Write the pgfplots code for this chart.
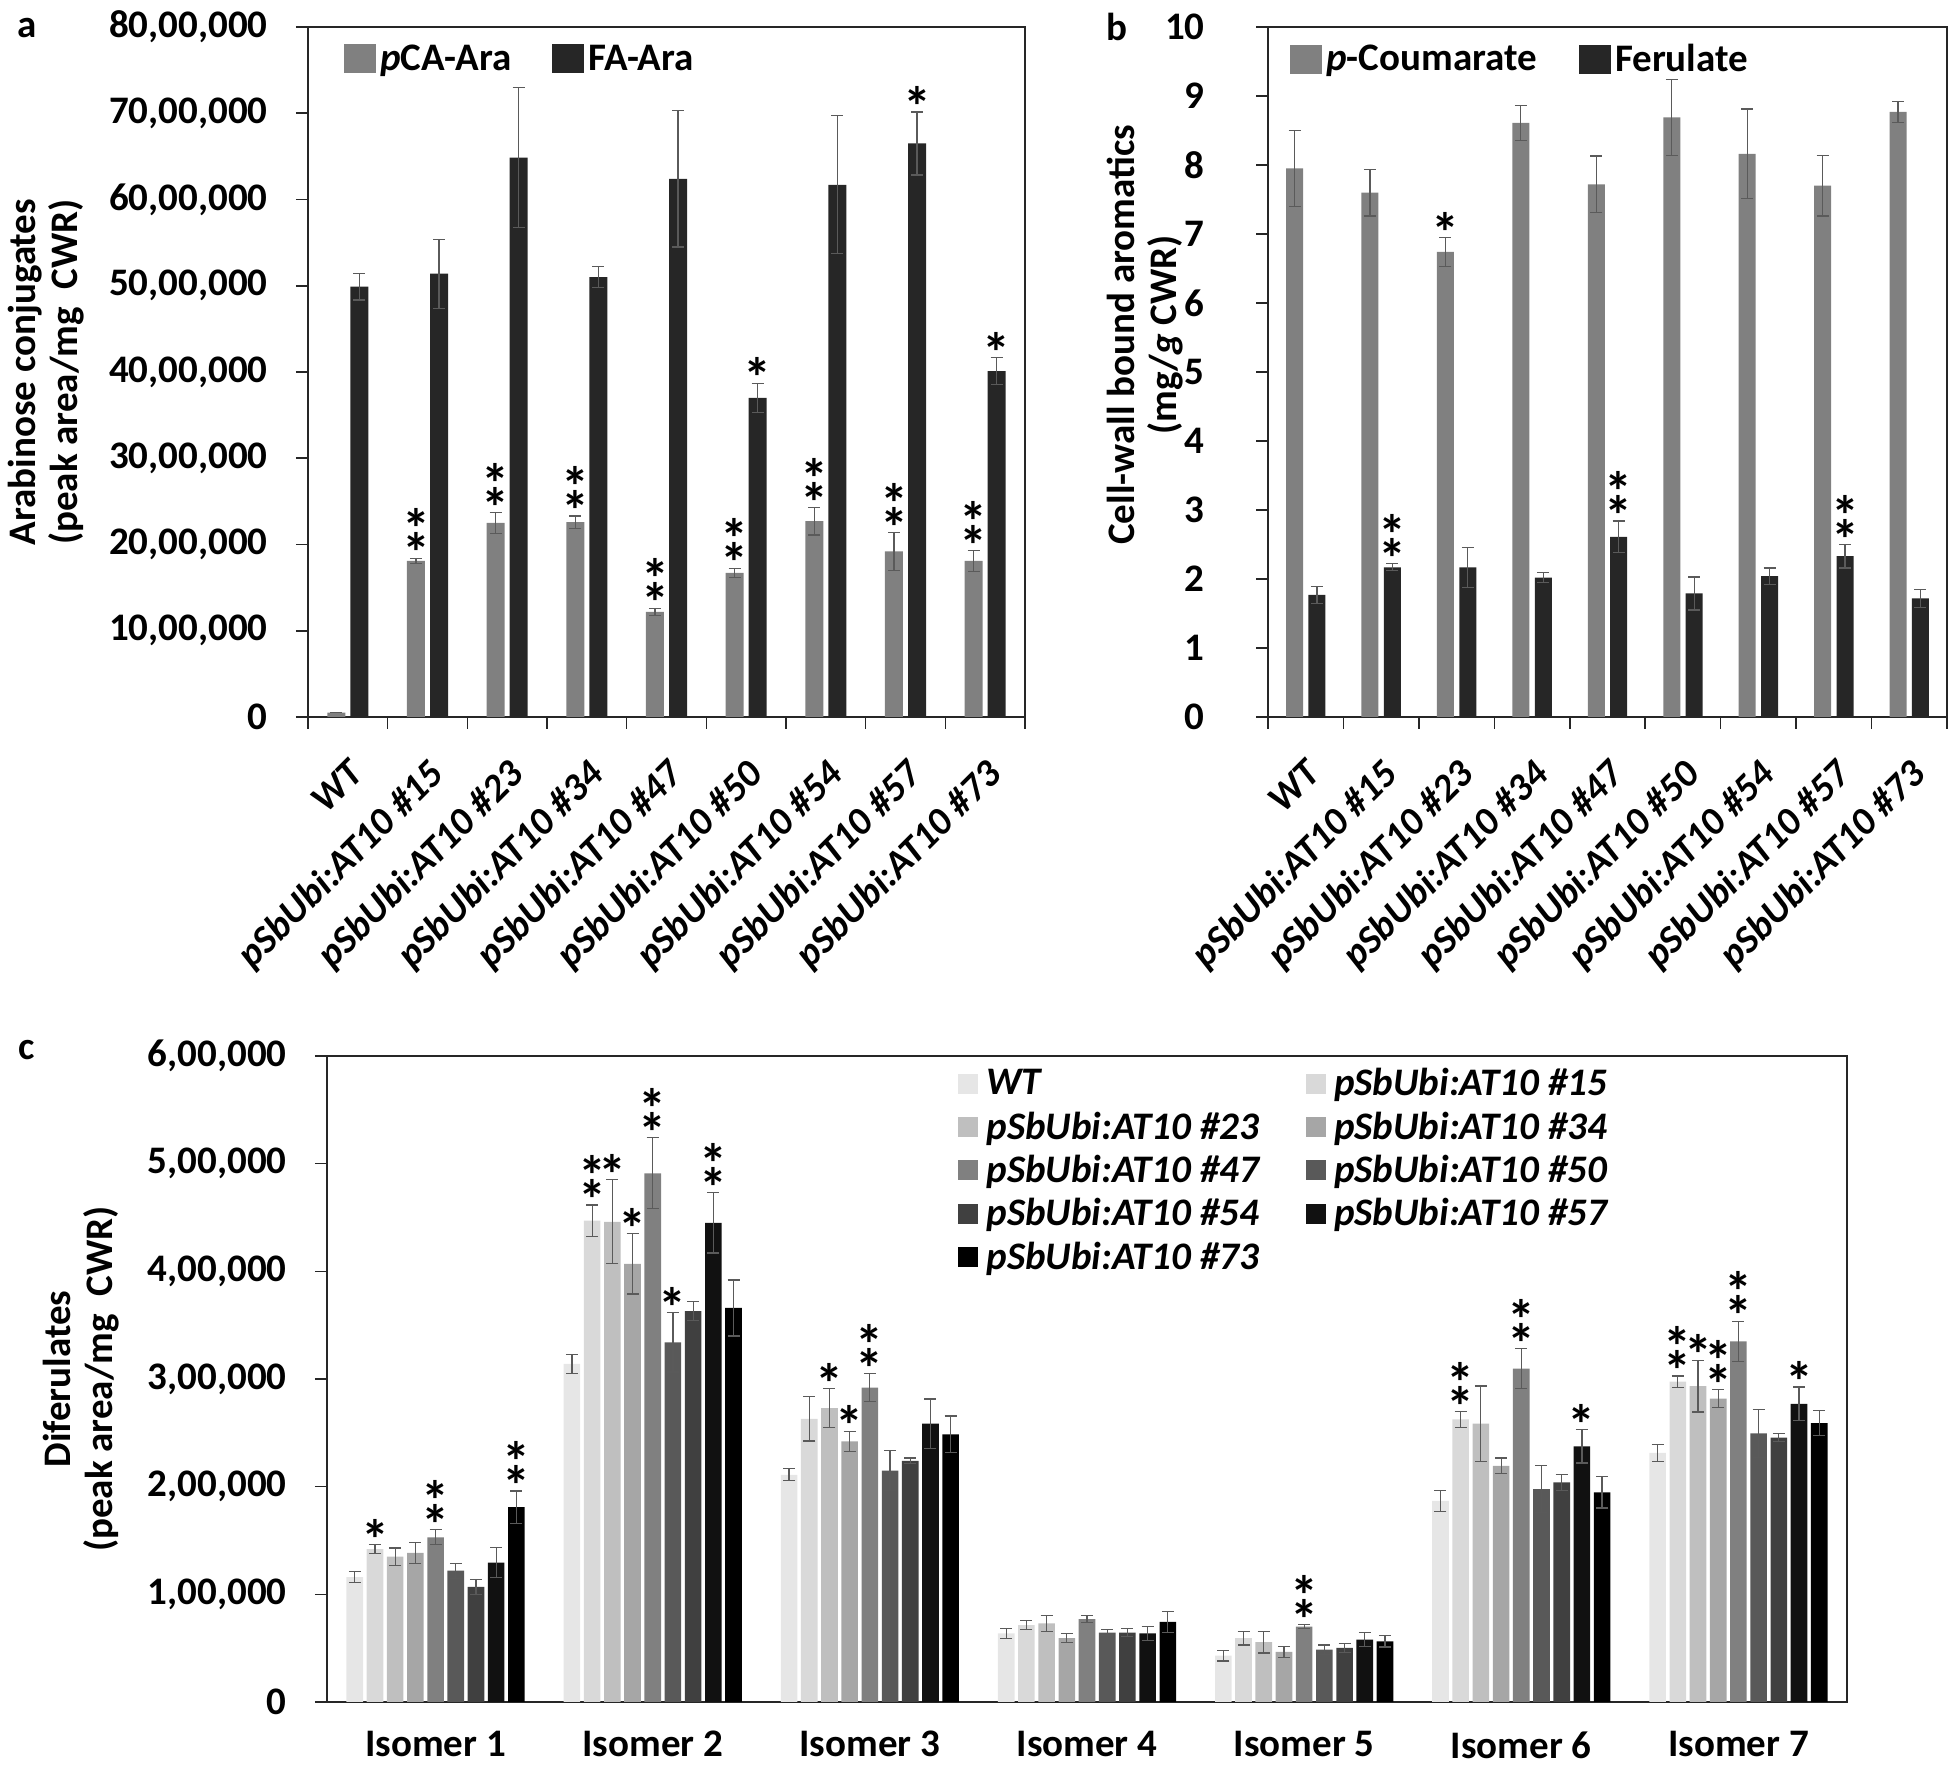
\documentclass[border=0pt]{standalone}
\usepackage{fontspec}
\setmainfont{Carlito}
\usepackage{pgfplots}
\usepackage{pgfplotstable}
\pgfplotsset{compat=1.18}

\definecolor{cPC}{HTML}{808080}
\definecolor{cFA}{HTML}{262626}
\definecolor{k0}{HTML}{E6E6E6}
\definecolor{k1}{HTML}{D9D9D9}
\definecolor{k2}{HTML}{BFBFBF}
\definecolor{k3}{HTML}{A6A6A6}
\definecolor{k4}{HTML}{808080}
\definecolor{k5}{HTML}{595959}
\definecolor{k6}{HTML}{404040}
\definecolor{k7}{HTML}{111111}
\definecolor{k8}{HTML}{000000}
\definecolor{errc}{HTML}{5A5A5A}
\definecolor{axc}{HTML}{262626}

\newcommand{\fs}{\fontsize{19.5}{21}\selectfont\bfseries}
\newcommand{\fst}{\fontsize{28}{12}\selectfont\bfseries\lineskiplimit=-50pt\lineskip=0pt}

\pgfplotstableread{
cat pca pcaerr fa faerr
0 50000 0 4990000 155000
1 1810000 30000 5140000 400000
2 2250000 120000 6485000 810000
3 2260000 70000 5100000 120000
4 1220000 40000 6240000 790000
5 1670000 55000 3700000 170000
6 2270000 160000 6170000 800000
7 1920000 220000 6650000 365000
8 1810000 120000 4010000 155000
}\tabA

\pgfplotstableread{
x y
0.8556 1840000
1.8556 2370000
2.8556 2330000
3.8556 1260000
4.8556 1725000
5.8556 2430000
6.8556 2140000
7.8556 1930000
}\starAd

\pgfplotstableread{
x y
5.1444 3870000
7.1444 7015000
8.1444 4165000
}\starAs

\pgfplotstableread{
cat pc pcerr fe feerr
0 7.95 0.55 1.77 0.12
1 7.60 0.34 2.17 0.05
2 6.74 0.21 2.17 0.29
3 8.61 0.25 2.02 0.07
4 7.72 0.41 2.61 0.23
5 8.69 0.55 1.79 0.24
6 8.16 0.65 2.04 0.12
7 7.70 0.44 2.33 0.17
8 8.77 0.15 1.72 0.13
}\tabB

\pgfplotstableread{
x y
1.8515 6.95
}\starBs

\pgfplotstableread{
x y
1.1485 2.22
4.1485 2.84
7.1485 2.50
}\starBd

\pgfplotstableread{
iso wt wte aa aae ab abe ac ace ad ade ae aee af afe ag age ah ahe
0 116000 5000 142000 4000 135000 8000 138500 10000 153000 7000 122000 7000 107000 7000 129500 14000 181000 15000
1 314000 8600 447000 14600 446000 39000 407000 28000 491000 33000 334000 27500 363000 9000 445000 28000 366000 26000
2 211000 5600 263000 20600 273000 18000 242000 9500 292000 13000 215000 18500 224000 2600 258500 23000 248600 17000
3 63700 4700 71400 4300 73000 7400 59400 4300 77000 3400 64500 3000 64500 3900 63700 6500 74400 9500
4 43000 5000 59400 6400 55500 10000 46500 5000 70000 2000 48600 4300 50300 4300 58000 6500 56300 5200
5 186700 10000 262400 7300 258500 35000 219400 7300 309700 18500 197800 21500 203900 7300 237400 15500 194800 14600
6 231400 7700 297600 5200 293300 24000 281700 8200 335000 18500 249500 22400 245600 3900 277000 15500 259000 11600
}\tabC

\pgfplotstableread{
x y
-0.279 146000
0.814 485000
0.907 435000
1.093 361500
1.814 291000
1.907 251500
5.279 252900
5.814 317300
6.279 292500
}\starCs

\pgfplotstableread{
x y
0 160000
0.372 196000
0.721 461600
1 524000
1.279 473000
2 305000
4 72000
4.721 269700
5 328200
5.721 302800
5.907 289900
6 353500
}\starCd

\pgfplotsset{
  panel/.style={
    scale only axis, clip=false, anchor=south west,
    scaled y ticks=false,
    axis line style={draw=axc, line width=0.8pt},
    tick align=outside, tick pos=left,
    major tick length=6pt,
    tick style={draw=axc, line width=0.8pt},
    tick label style={font=\fs},
    label style={font=\fs},
    yticklabel style={inner sep=0pt, xshift=-14pt},
    ymin=0,
  },
  ebar/.style={
    /pgfplots/error bars/y dir=both,
    /pgfplots/error bars/y explicit,
    /pgfplots/error bars/error bar style={draw=errc, line width=0.6pt},
    /pgfplots/error bars/error mark options={draw=errc, line width=0.6pt, mark size=3pt, rotate=90},
  },
  stars/.style={draw=none, forget plot,
    nodes near coords={*},
    every node near coord/.style={anchor=south, inner sep=0pt, yshift=-7.5pt, font=\fst, align=center}},
  dstars/.style={draw=none, forget plot,
    nodes near coords={*\\*},
    every node near coord/.style={anchor=south, inner sep=0pt, yshift=-7.5pt, font=\fst, align=center}},
}

\begin{document}
\begin{tikzpicture}
\useasboundingbox (0,0) rectangle (974pt,883pt);

% ---------------- panel a
\begin{axis}[panel,
  at={(154pt,524.5pt)}, width=358.5pt, height=345pt,
  xmin=-0.5, xmax=8.5, ymax=8000000,
  xtick={-0.5,0.5,...,8.5}, x tick label as interval,
  xticklabels={WT,pSbUbi:AT10 \#15,pSbUbi:AT10 \#23,pSbUbi:AT10 \#34,pSbUbi:AT10 \#47,pSbUbi:AT10 \#50,pSbUbi:AT10 \#54,pSbUbi:AT10 \#57,pSbUbi:AT10 \#73},
  xticklabel style={font=\fs\itshape, xshift=-0.5pt, yshift=-14pt, rotate=45, anchor=north east, inner sep=0pt},
  ytick={0,1000000,...,8000000},
  yticklabels={0,{10,00,000},{20,00,000},{30,00,000},{40,00,000},{50,00,000},{60,00,000},{70,00,000},{80,00,000}},
  ylabel={Arabinose conjugates\\(peak area/mg\ \ CWR)},
  ylabel style={at={([xshift=-131pt]axis description cs:0,0.5)}, anchor=center, align=center, font=\fs},
  legend columns=2,
  legend image code/.code={\fill[#1] (0pt,-7.25pt) rectangle (16pt,7.25pt);},
  legend style={draw=none, fill=none, font=\fs, at={(axis description cs:0,1)}, anchor=north west, xshift=18pt, yshift=-8.5pt, inner sep=0pt,
    nodes={inner xsep=2pt, inner ysep=0pt}, /tikz/every even column/.append style={column sep=18.5pt}},
]
\addplot[ybar, bar width=9pt, bar shift=0pt, fill=cPC, draw=none, ebar] table[x expr=\thisrow{cat}-0.1444, y=pca, y error=pcaerr]{\tabA};
\addlegendentry{\textit{p}CA-Ara}
\addplot[ybar, bar width=9pt, bar shift=0pt, fill=cFA, draw=none, ebar] table[x expr=\thisrow{cat}+0.1444, y=fa, y error=faerr]{\tabA};
\addlegendentry{FA-Ara}
\addplot[dstars] table[x=x, y=y]{\starAd};
\addplot[stars] table[x=x, y=y]{\starAs};
\end{axis}

% ---------------- panel b
\begin{axis}[panel,
  at={(634pt,524.5pt)}, width=339.5pt, height=345pt,
  xmin=-0.5, xmax=8.5, ymax=10,
  xtick={-0.5,0.5,...,8.5}, x tick label as interval,
  xticklabels={WT,pSbUbi:AT10 \#15,pSbUbi:AT10 \#23,pSbUbi:AT10 \#34,pSbUbi:AT10 \#47,pSbUbi:AT10 \#50,pSbUbi:AT10 \#54,pSbUbi:AT10 \#57,pSbUbi:AT10 \#73},
  xticklabel style={font=\fs\itshape, xshift=-0.5pt, yshift=-14pt, rotate=45, anchor=north east, inner sep=0pt},
  ytick={0,1,...,10},
  yticklabels={0,1,2,3,4,5,6,7,8,9,10},
  yticklabel style={xshift=-11.5pt},
  ylabel={Cell-wall bound aromatics\\(mg/\textit{g} CWR)},
  ylabel style={at={([xshift=-61.5pt,yshift=18.5pt]axis description cs:0,0.5)}, anchor=center, align=center, font=\fs},
  legend columns=2,
  legend image code/.code={\fill[#1] (0pt,-7.25pt) rectangle (16pt,7.25pt);},
  legend style={draw=none, fill=none, font=\fs, at={(axis description cs:0,1)}, anchor=north west, xshift=11pt, yshift=-8.5pt, inner sep=0pt,
    nodes={inner xsep=2pt, inner ysep=0pt}, /tikz/every even column/.append style={column sep=19pt}},
]
\addplot[ybar, bar width=8.5pt, bar shift=0pt, fill=cPC, draw=none, ebar] table[x expr=\thisrow{cat}-0.1485, y=pc, y error=pcerr]{\tabB};
\addlegendentry{\textit{p}-Coumarate}
\addplot[ybar, bar width=8.5pt, bar shift=0pt, fill=cFA, draw=none, ebar] table[x expr=\thisrow{cat}+0.1485, y=fe, y error=feerr]{\tabB};
\addlegendentry{Ferulate}
\addplot[stars] table[x=x, y=y]{\starBs};
\addplot[dstars] table[x=x, y=y]{\starBd};
\end{axis}

% ---------------- panel c
\begin{axis}[panel,
  at={(163.5pt,32pt)}, width=760pt, height=323pt,
  xmin=-0.5, xmax=6.5, ymax=600000,
  xtick={0,...,6},
  xticklabels={Isomer 1,Isomer 2,Isomer 3,Isomer 4,Isomer 5,Isomer 6,Isomer 7},
  xtick style={draw=none},
  xticklabel style={anchor=north, inner sep=0pt, yshift=-8.5pt},
  ytick={0,100000,...,600000},
  yticklabels={0,{1,00,000},{2,00,000},{3,00,000},{4,00,000},{5,00,000},{6,00,000}},
  ylabel={Diferulates\\(peak area/mg\ \ CWR)},
  ylabel style={at={([xshift=-123pt]axis description cs:0,0.5)}, anchor=center, align=center, font=\fs},
  legend columns=2, legend cell align=left,
  legend image code/.code={\fill[#1] (0pt,-5pt) rectangle (10pt,5pt);},
  legend style={draw=none, fill=none, font=\fs\itshape, at={(axis description cs:0,1)}, anchor=north west, xshift=315.5pt, yshift=-6pt, inner sep=0pt,
    nodes={inner xsep=4pt, inner ysep=0pt}, row sep=6.5pt, /tikz/every even column/.append style={column sep=19.5pt}},
]
\addplot[ybar, bar width=8.3pt, bar shift=0pt, fill=k0, draw=none, ebar] table[x expr=\thisrow{iso}-0.3721, y=wt, y error=wte]{\tabC};
\addlegendentry{WT}
\addplot[ybar, bar width=8.3pt, bar shift=0pt, fill=k1, draw=none, ebar] table[x expr=\thisrow{iso}-0.2791, y=aa, y error=aae]{\tabC};
\addlegendentry{pSbUbi:AT10 \#15}
\addplot[ybar, bar width=8.3pt, bar shift=0pt, fill=k2, draw=none, ebar] table[x expr=\thisrow{iso}-0.1861, y=ab, y error=abe]{\tabC};
\addlegendentry{pSbUbi:AT10 \#23}
\addplot[ybar, bar width=8.3pt, bar shift=0pt, fill=k3, draw=none, ebar] table[x expr=\thisrow{iso}-0.0930, y=ac, y error=ace]{\tabC};
\addlegendentry{pSbUbi:AT10 \#34}
\addplot[ybar, bar width=8.3pt, bar shift=0pt, fill=k4, draw=none, ebar] table[x expr=\thisrow{iso}, y=ad, y error=ade]{\tabC};
\addlegendentry{pSbUbi:AT10 \#47}
\addplot[ybar, bar width=8.3pt, bar shift=0pt, fill=k5, draw=none, ebar] table[x expr=\thisrow{iso}+0.0930, y=ae, y error=aee]{\tabC};
\addlegendentry{pSbUbi:AT10 \#50}
\addplot[ybar, bar width=8.3pt, bar shift=0pt, fill=k6, draw=none, ebar] table[x expr=\thisrow{iso}+0.1861, y=af, y error=afe]{\tabC};
\addlegendentry{pSbUbi:AT10 \#54}
\addplot[ybar, bar width=8.3pt, bar shift=0pt, fill=k7, draw=none, ebar] table[x expr=\thisrow{iso}+0.2791, y=ag, y error=age]{\tabC};
\addlegendentry{pSbUbi:AT10 \#57}
\addplot[ybar, bar width=8.3pt, bar shift=0pt, fill=k8, draw=none, ebar] table[x expr=\thisrow{iso}+0.3721, y=ah, y error=ahe]{\tabC};
\addlegendentry{pSbUbi:AT10 \#73}
\addplot[stars] table[x=x, y=y]{\starCs};
\addplot[dstars] table[x=x, y=y]{\starCd};
\end{axis}

\node[font=\fs] at (13.5pt,869pt) {a};
\node[font=\fs] at (558.5pt,869.5pt) {b};
\node[font=\fs] at (13.5pt,358pt) {c};
\end{tikzpicture}
\end{document}
